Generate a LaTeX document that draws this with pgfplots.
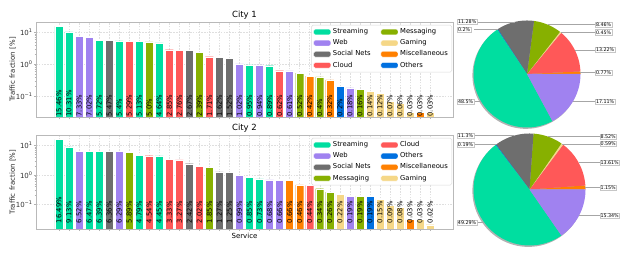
\documentclass[border=0pt]{standalone}
\usepackage{pgfplots}
\pgfplotsset{compat=1.18}
\usepackage{fontspec}
\setmainfont{DejaVu Sans}
\definecolor{cStream}{RGB}{0,222,160}
\definecolor{cWeb}{RGB}{160,130,240}
\definecolor{cSocial}{RGB}{110,110,110}
\definecolor{cCloud}{RGB}{255,88,88}
\definecolor{cMsg}{RGB}{135,176,0}
\definecolor{cGame}{RGB}{245,215,135}
\definecolor{cMisc}{RGB}{255,128,0}
\definecolor{cOther}{RGB}{0,112,224}
\newcommand{\tpw}[1]{10\raisebox{0.42em}{\fontsize{5}{5}\selectfont #1}}
\newcommand{\fsz}[1]{\fontsize{#1}{#1}\selectfont}
\tikzset{
  plab/.style={draw=gray!45, fill=white, inner sep=0.8pt, font=\fsz{4.8}, anchor=west, line width=0.4pt},
  pline/.style={gray!70, line width=0.5pt},
}
\pgfplotsset{
  mybar/.style={ybar, bar width=0.8, bar shift=0pt, fill=#1, draw=white, line width=0.3pt, area legend},
}
\newcommand{\slice}[3]{\addplot[fill=#1, draw=none, domain=#2:#3, samples=40, variable=\t] ({cos(\t)},{sin(\t)}) -- (axis cs:0,0) -- cycle;}
\begin{document}
\begin{tikzpicture}
\useasboundingbox (0,0) rectangle (628pt,253pt);
% ---------------- City 1 bars
\begin{axis}[scale only axis, width=417pt, height=95pt, at={(36pt,136pt)}, anchor=south west,
    xmin=-2.29, xmax=39.29, ymin=0.0218, ymax=21.1,
    ymode=log, log origin=infty,
    axis line style={gray!55},
    grid=major, grid style={gray!25, dash pattern=on 1.6pt off 1.2pt, line width=0.4pt},
    xtick={0,...,37}, xticklabels={},
    ytick={0.1,1,10}, yticklabels={\tpw{−1},\tpw{0},\tpw{1}},
    tick pos=left, tick align=outside,
    major tick length=2.2pt, minor tick length=1.3pt,
    tick style={gray!60, line width=0.4pt},
    yticklabel style={font=\fsz{7}, text=black!80, inner sep=0pt, xshift=-1.5pt},
    ylabel={Traffic fraction [\%]},
    ylabel style={at={(axis description cs:-0.048,0.5)}, anchor=south, inner sep=0pt, font=\fsz{7}, text=black!85},
    title={City 1},
    every axis title/.style={at={(axis description cs:0.5,1)}, anchor=south, yshift=3pt, inner sep=0pt, font=\fsz{8.5}},
    legend columns=2, legend cell align=left,
    legend style={at={(axis description cs:1,1)}, anchor=north east, xshift=-1pt, yshift=-3pt,
      draw=gray!30, rounded corners=1.5pt, font=\fsz{6.8}, inner xsep=2pt, inner ysep=1.5pt,
      row sep=0.4pt, /tikz/every even column/.append style={column sep=8pt}},
  ]
\addplot[mybar=cStream] coordinates {(0,15.46) (1,10.31) (4,5.72) (6,5.4) (8,5.13) (10,4.64) (19,0.95) (21,0.89)};
\addlegendentry{Streaming}
\addplot[mybar=cMsg] coordinates {(9,5.0) (14,2.39) (24,0.52) (26,0.4) (30,0.16)};
\addlegendentry{Messaging}
\addplot[mybar=cWeb] coordinates {(2,7.33) (3,7.02) (18,1.02) (20,0.94) (23,0.61) (29,0.18)};
\addlegendentry{Web}
\addplot[mybar=cGame] coordinates {(31,0.14) (32,0.12) (33,0.07) (34,0.06) (35,0.03) (37,0.03)};
\addlegendentry{Gaming}
\addplot[mybar=cSocial] coordinates {(5,5.47) (13,2.67) (16,1.62) (17,1.52)};
\addlegendentry{Social Nets}
\addplot[mybar=cMisc] coordinates {(25,0.42) (27,0.32) (36,0.03)};
\addlegendentry{Miscellaneous}
\addplot[mybar=cCloud] coordinates {(7,5.29) (11,2.85) (12,2.76) (15,1.71) (22,0.62)};
\addlegendentry{Cloud}
\addplot[mybar=cOther] coordinates {(28,0.2)};
\addlegendentry{Others}
\addplot[forget plot, draw=none, mark=none, nodes near coords={\pgfplotspointmeta\%},
    point meta=explicit symbolic,
    every node near coord/.append style={rotate=90, anchor=west, inner sep=0pt, font=\fsz{6.8}, text=black}]
  table[x=x, y expr=0.0225, meta=l] {
x l
0 15.46
1 10.31
2 7.33
3 7.02
4 5.72
5 5.47
6 5.4
7 5.29
8 5.13
9 5.0
10 4.64
11 2.85
12 2.76
13 2.67
14 2.39
15 1.71
16 1.62
17 1.52
18 1.02
19 0.95
20 0.94
21 0.89
22 0.62
23 0.61
24 0.52
25 0.42
26 0.4
27 0.32
28 0.2
29 0.18
30 0.16
31 0.14
32 0.12
33 0.07
34 0.06
35 0.03
36 0.03
37 0.03
};
\end{axis}
% ---------------- City 2 bars
\begin{axis}[scale only axis, width=417pt, height=94pt, at={(36pt,24pt)}, anchor=south west,
    xmin=-2.29, xmax=39.29, ymin=0.0143, ymax=23.1,
    ymode=log, log origin=infty,
    axis line style={gray!55},
    grid=major, grid style={gray!25, dash pattern=on 1.6pt off 1.2pt, line width=0.4pt},
    xtick={0,...,37}, xticklabels={},
    ytick={0.1,1,10}, yticklabels={\tpw{−1},\tpw{0},\tpw{1}},
    tick pos=left, tick align=outside,
    major tick length=2.2pt, minor tick length=1.3pt,
    tick style={gray!60, line width=0.4pt},
    yticklabel style={font=\fsz{7}, text=black!80, inner sep=0pt, xshift=-1.5pt},
    ylabel={Traffic fraction [\%]},
    ylabel style={at={(axis description cs:-0.048,0.5)}, anchor=south, inner sep=0pt, font=\fsz{7}, text=black!85},
    title={City 2},
    every axis title/.style={at={(axis description cs:0.5,1)}, anchor=south, yshift=3pt, inner sep=0pt, font=\fsz{8.5}},
    xlabel={Service},
    xlabel style={at={(axis description cs:0.5,0)}, anchor=north, yshift=-3.5pt, inner sep=0pt, font=\fsz{7}},
    legend columns=2, legend cell align=left,
    legend style={at={(axis description cs:1,1)}, anchor=north east, xshift=-1pt, yshift=-3pt,
      draw=gray!30, rounded corners=1.5pt, font=\fsz{6.8}, inner xsep=2pt, inner ysep=1.5pt,
      row sep=0.4pt, /tikz/every even column/.append style={column sep=8pt}},
  ]
\addplot[mybar=cStream] coordinates {(0,16.49) (1,9.13) (3,6.47) (4,6.39) (8,4.79) (10,4.45) (19,0.85) (20,0.73)};
\addlegendentry{Streaming}
\addplot[mybar=cCloud] coordinates {(9,4.54) (11,3.33) (12,3.27) (14,2.02) (25,0.44)};
\addlegendentry{Cloud}
\addplot[mybar=cWeb] coordinates {(2,6.52) (6,6.29) (18,0.99) (21,0.68) (22,0.66) (29,0.19)};
\addlegendentry{Web}
\addplot[mybar=cOther] coordinates {(31,0.19)};
\addlegendentry{Others}
\addplot[mybar=cSocial] coordinates {(5,6.36) (13,2.42) (16,1.27) (17,1.25)};
\addlegendentry{Social Nets}
\addplot[mybar=cMisc] coordinates {(23,0.66) (24,0.46) (35,0.03)};
\addlegendentry{Miscellaneous}
\addplot[mybar=cMsg] coordinates {(7,5.89) (15,1.85) (26,0.34) (27,0.26) (30,0.19)};
\addlegendentry{Messaging}
\addplot[mybar=cGame] coordinates {(28,0.22) (32,0.15) (33,0.09) (34,0.08) (36,0.03) (37,0.02)};
\addlegendentry{Gaming}
\addplot[forget plot, draw=none, mark=none, nodes near coords={\pgfplotspointmeta\%},
    point meta=explicit symbolic,
    every node near coord/.append style={rotate=90, anchor=west, inner sep=0pt, font=\fsz{6.8}, text=black}]
  table[x=x, y expr=0.0225, meta=l] {
x l
0 16.49
1 9.13
2 6.52
3 6.47
4 6.39
5 6.36
6 6.29
7 5.89
8 4.79
9 4.54
10 4.45
11 3.33
12 3.27
13 2.42
14 2.02
15 1.85
16 1.27
17 1.25
18 0.99
19 0.85
20 0.73
21 0.68
22 0.66
23 0.66
24 0.46
25 0.44
26 0.34
27 0.26
28 0.22
29 0.19
30 0.19
31 0.19
32 0.15
33 0.09
34 0.08
35 0.03
36 0.03
37 0.02
};
\end{axis}
% ---------------- City 1 pie (Misc 0.77, Cloud 13.22, Gaming 0.45, Messaging 8.46, Social 11.28, Others 0.2, Streaming 48.5, Web 17.11)
\begin{axis}[scale only axis, hide axis, clip=false, xmin=-1, xmax=1, ymin=-1, ymax=1,
    width=107pt, height=107pt, at={(527pt,179pt)}, anchor=center]
\addplot[fill=black, opacity=0.3, draw=none, domain=0:360, samples=90, variable=\t] ({cos(\t)-0.02},{sin(\t)-0.025});
\slice{cMisc}{0}{2.772}
\slice{cCloud}{2.772}{50.364}
\slice{cGame}{50.364}{51.984}
\slice{cMsg}{51.984}{82.44}
\slice{cSocial}{82.44}{123.048}
\slice{cOther}{123.048}{123.768}
\slice{cStream}{123.768}{298.368}
\slice{cWeb}{298.368}{360}
\draw[pline] (axis cs:0.9997,0.0242) -- (axis cs:1.30,0.0242);
\draw[pline] (axis cs:0.8944,0.4472) -- (axis cs:1.30,0.4472);
\draw[pline] (axis cs:0.6268,0.7792) -- (axis cs:1.30,0.7792);
\draw[pline] (axis cs:0.3873,0.9220) -- (axis cs:1.30,0.9220);
\draw[pline] (axis cs:-0.2206,0.9754) -- (axis cs:-1.0,0.9754);
\draw[pline] (axis cs:-0.5505,0.8348) -- (axis cs:-1.0,0.8348);
\draw[pline] (axis cs:-0.8564,-0.5160) -- (axis cs:-1.0,-0.5160);
\draw[pline] (axis cs:0.8589,-0.5121) -- (axis cs:1.30,-0.5121);
\node[plab] at (axis cs:1.271,0.0242) {0.77\%};
\node[plab] at (axis cs:1.271,0.4472) {13.22\%};
\node[plab] at (axis cs:1.271,0.7792) {0.45\%};
\node[plab] at (axis cs:1.271,0.9220) {8.46\%};
\node[plab] at (axis cs:-1.308,0.9754) {11.28\%};
\node[plab] at (axis cs:-1.308,0.8348) {0.2\%};
\node[plab] at (axis cs:-1.308,-0.5160) {48.5\%};
\node[plab] at (axis cs:1.271,-0.5121) {17.11\%};
\end{axis}
% ---------------- City 2 pie (Misc 1.15, Cloud 13.61, Gaming 0.59, Messaging 8.52, Social 11.3, Others 0.19, Streaming 49.29, Web 15.34)
\begin{axis}[scale only axis, hide axis, clip=false, xmin=-1, xmax=1, ymin=-1, ymax=1,
    width=112pt, height=112pt, at={(529.5pt,63.5pt)}, anchor=center]
\addplot[fill=black, opacity=0.3, draw=none, domain=0:360, samples=90, variable=\t] ({cos(\t)-0.02},{sin(\t)-0.025});
\slice{cMisc}{0}{4.14}
\slice{cCloud}{4.14}{53.136}
\slice{cGame}{53.136}{55.26}
\slice{cMsg}{55.26}{85.932}
\slice{cSocial}{85.932}{126.612}
\slice{cOther}{126.612}{127.296}
\slice{cStream}{127.296}{304.74}
\slice{cWeb}{304.74}{360}
\draw[pline] (axis cs:0.9993,0.0361) -- (axis cs:1.28,0.0361);
\draw[pline] (axis cs:0.8777,0.4793) -- (axis cs:1.28,0.4793);
\draw[pline] (axis cs:0.5851,0.8110) -- (axis cs:1.28,0.8110);
\draw[pline] (axis cs:0.3323,0.9432) -- (axis cs:1.28,0.9432);
\draw[pline] (axis cs:-0.2802,0.9599) -- (axis cs:-1.0,0.9599);
\draw[pline] (axis cs:-0.6012,0.7991) -- (axis cs:-1.0,0.7991);
\draw[pline] (axis cs:-0.8090,-0.5879) -- (axis cs:-1.0,-0.5879);
\draw[pline] (axis cs:0.8860,-0.4637) -- (axis cs:1.28,-0.4637);
\node[plab] at (axis cs:1.25,0.0361) {1.15\%};
\node[plab] at (axis cs:1.25,0.4793) {13.61\%};
\node[plab] at (axis cs:1.25,0.8110) {0.59\%};
\node[plab] at (axis cs:1.25,0.9432) {8.52\%};
\node[plab] at (axis cs:-1.295,0.9599) {11.3\%};
\node[plab] at (axis cs:-1.295,0.7991) {0.19\%};
\node[plab] at (axis cs:-1.295,-0.5879) {49.29\%};
\node[plab] at (axis cs:1.25,-0.4637) {15.34\%};
\end{axis}
\end{tikzpicture}
\end{document}
